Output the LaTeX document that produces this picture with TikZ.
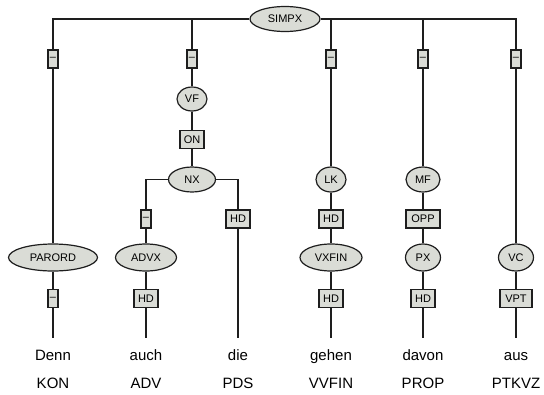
\documentclass[tikz,border=0pt]{standalone}
\usepackage{fontspec}
\setmainfont{Liberation Sans}
\usetikzlibrary{shapes.geometric}
\definecolor{nodefill}{RGB}{218,220,214}
\definecolor{lineclr}{RGB}{30,30,30}
\tikzset{
  cat/.style={ellipse, draw=lineclr, fill=nodefill, line width=1.2pt, inner sep=0pt, font=\fontsize{11}{13}\selectfont},
  fn/.style={rectangle, draw=lineclr, fill=nodefill, line width=1.2pt, inner sep=0pt, minimum width=24pt, minimum height=18pt, font=\fontsize{11}{13}\selectfont},
  dashbox/.style={fn, minimum width=10pt, minimum height=18pt},
  word/.style={anchor=base, inner sep=0pt, font=\fontsize{15}{17}\selectfont},
  conn/.style={draw=lineclr, line width=1.2pt}
}
\begin{document}
\begin{tikzpicture}[x=1pt,y=-1pt]
\useasboundingbox (0,0) rectangle (544,394);
% ends of the vertical lines above words
\coordinate (e1) at (53,338);
\coordinate (e2) at (146,338);
\coordinate (e3) at (238,338);
\coordinate (e4) at (331,338);
\coordinate (e5) at (423,338);
\coordinate (e6) at (516,338);
% nodes
\node[cat, minimum width=70pt, minimum height=25pt] (simpx) at (285,19) {SIMPX};
\node[dashbox] (d1) at (53,59) {–};
\node[dashbox] (d2) at (192,59) {–};
\node[dashbox] (d3) at (331,59) {–};
\node[dashbox] (d4) at (423,59) {–};
\node[dashbox] (d5) at (516,59) {–};
\node[cat, minimum width=30pt, minimum height=24pt] (vf) at (192,99) {VF};
\node[fn] (on) at (192,139.5) {ON};
\node[cat, minimum width=47pt, minimum height=25pt] (nx) at (192,179.5) {NX};
\node[dashbox] (d6) at (146,219) {–};
\node[fn] (hd1) at (238,219) {HD};
\node[cat, minimum width=30pt, minimum height=25pt] (lk) at (331,179.5) {LK};
\node[cat, minimum width=34pt, minimum height=25pt] (mf) at (423,179.5) {MF};
\node[fn] (hd2) at (331,219) {HD};
\node[fn, minimum width=34pt] (opp) at (423,219) {OPP};
\node[cat, minimum width=89pt, minimum height=27pt] (parord) at (53,257.5) {PARORD};
\node[cat, minimum width=61pt, minimum height=27pt] (advx) at (146,257.5) {ADVX};
\node[cat, minimum width=62pt, minimum height=27pt] (vxfin) at (331,257.5) {VXFIN};
\node[cat, minimum width=35pt, minimum height=27pt] (px) at (423,257.5) {PX};
\node[cat, minimum width=35pt, minimum height=27pt] (vc) at (516,257.5) {VC};
\node[dashbox] (d7) at (53,298.5) {–};
\node[fn] (hd3) at (146,298.5) {HD};
\node[fn] (hd4) at (331,298.5) {HD};
\node[fn] (hd5) at (423,298.5) {HD};
\node[fn, minimum width=32pt] (vpt) at (516,298.5) {VPT};
% connectors
\path[conn]
  (simpx.west) -| (d1.north)
  (simpx.west) -| (d2.north)
  (simpx.east) -| (d3.north)
  (simpx.east) -| (d4.north)
  (simpx.east) -| (d5.north)
  (d1) -- (parord) (parord) -- (d7) (d7.south) -- (e1)
  (d2) -- (vf) (vf) -- (on) (on) -- (nx)
  (nx.west) -| (d6.north) (d6) -- (advx) (advx) -- (hd3) (hd3.south) -- (e2)
  (nx.east) -| (hd1.north) (hd1.south) -- (e3)
  (d3) -- (lk) (lk) -- (hd2) (hd2) -- (vxfin) (vxfin) -- (hd4) (hd4.south) -- (e4)
  (d4) -- (mf) (mf) -- (opp) (opp) -- (px) (px) -- (hd5) (hd5.south) -- (e5)
  (d5) -- (vc) (vc) -- (vpt) (vpt.south) -- (e6);
% words
\node[word] (w1) at (53,360) {Denn};
\node[word] (w2) at (146,360) {auch};
\node[word] (w3) at (238,360) {die};
\node[word] (w4) at (331,360) {gehen};
\node[word] (w5) at (423,360) {davon};
\node[word] (w6) at (516,360) {aus};
\node[word] (p1) at (53,388) {KON};
\node[word] (p2) at (146,388) {ADV};
\node[word] (p3) at (238,388) {PDS};
\node[word] (p4) at (331,388) {VVFIN};
\node[word] (p5) at (423,388) {PROP};
\node[word] (p6) at (516,388) {PTKVZ};
\end{tikzpicture}
\end{document}
